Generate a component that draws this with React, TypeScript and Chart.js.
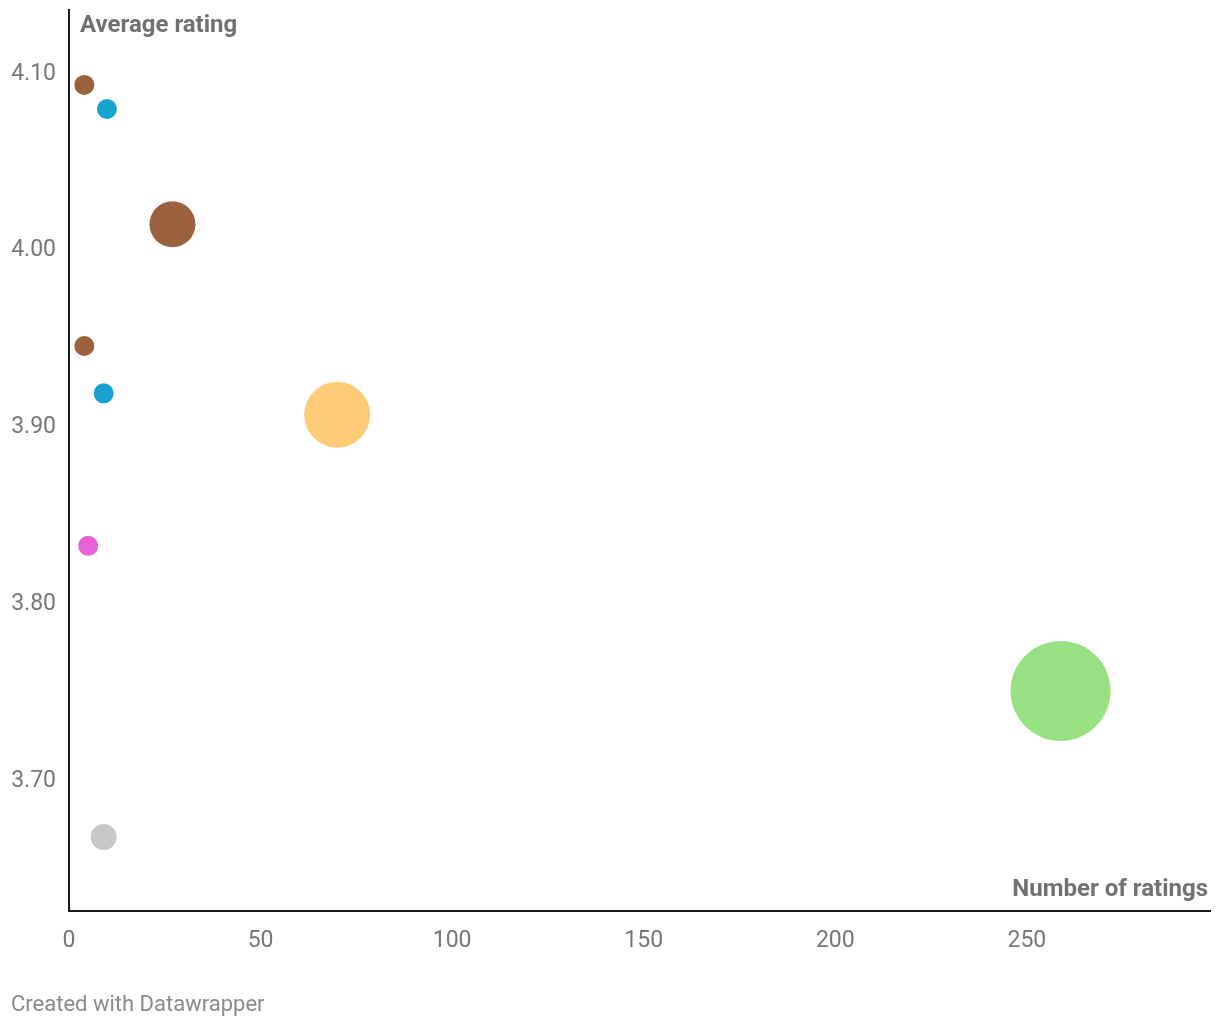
import React, { useEffect, useRef } from "react";
import { Chart, registerables } from "chart.js";

Chart.register(...registerables);

// Data
const ratingCounts = [4.0, 9.9, 27.0, 4.0, 9.05, 70.0, 5.0, 258.8, 9.05];
const averageRatings = [4.0938, 4.0802, 4.015, 3.9461, 3.9193, 3.9072, 3.833, 3.7509, 3.6683];
const bubbleRadii = [10, 10, 23, 10, 10, 33, 10, 50, 13];
const bubbleColors = [
  "#9b613d",
  "#18a2cf",
  "#9b613d",
  "#9b613d",
  "#18a2cf",
  "#fecb79",
  "#ea60d6",
  "#98e183",
  "#c7c7c7",
];
const xTicks = [0, 50, 100, 150, 200, 250];
const yTicks = [3.7, 3.8, 3.9, 4.0, 4.1];

const X_MIN = 0;
const X_MAX = 297.8;
const Y_MIN = 3.6264;
const Y_MAX = 4.1362;

export default function App() {
  const canvasRef = useRef<HTMLCanvasElement | null>(null);

  useEffect(() => {
    if (!canvasRef.current) return;
    const points = ratingCounts.map((x, i) => ({
      x,
      y: averageRatings[i],
      r: bubbleRadii[i],
    }));
    const tickFont = { family: "Roboto", size: 23 };
    const chart = new Chart(canvasRef.current, {
      type: "bubble",
      data: {
        datasets: [
          {
            data: points,
            backgroundColor: bubbleColors,
            borderWidth: 0,
            hoverBorderWidth: 0,
          },
        ],
      },
      options: {
        animation: false,
        responsive: false,
        maintainAspectRatio: false,
        layout: { autoPadding: false, padding: { top: 10, right: 10, left: 0, bottom: 0 } },
        plugins: {
          legend: { display: false },
          tooltip: { enabled: false },
        },
        scales: {
          x: {
            type: "linear",
            min: X_MIN,
            max: X_MAX,
            afterFit: (scale: any) => {
              scale.height = 117;
              scale.paddingLeft = 0;
              scale.paddingRight = 0;
            },
            afterBuildTicks: (scale: any) => {
              scale.ticks = xTicks.map((v) => ({ value: v }));
            },
            grid: { display: true, color: "rgba(0,0,0,0)", drawTicks: false },
            border: { display: true, color: "#1a1a1a", width: 2 },
            ticks: {
              font: tickFont,
              color: "#777777",
              padding: 16,
              maxRotation: 0,
              callback: (v: any) => String(v),
            },
          },
          y: {
            type: "linear",
            min: Y_MIN,
            max: Y_MAX,
            afterFit: (scale: any) => {
              scale.width = 69;
              scale.paddingTop = 0;
              scale.paddingBottom = 0;
            },
            afterBuildTicks: (scale: any) => {
              scale.ticks = yTicks.map((v) => ({ value: v }));
            },
            grid: { display: true, color: "rgba(0,0,0,0)", drawTicks: false },
            border: { display: true, color: "#1a1a1a", width: 2 },
            ticks: {
              font: tickFont,
              color: "#777777",
              padding: 13,
              callback: (v: any) => Number(v).toFixed(2),
            },
          },
        },
      },
    });
    return () => chart.destroy();
  }, []);

  const textBase: React.CSSProperties = {
    position: "absolute",
    fontFamily: "Roboto, sans-serif",
    whiteSpace: "nowrap",
    lineHeight: 1,
  };

  return (
    <div
      style={{
        position: "absolute",
        left: 0,
        top: 0,
        width: 1220,
        height: 1028,
        background: "#ffffff",
        overflow: "hidden",
      }}
    >
      <canvas ref={canvasRef} width={1220} height={1028} style={{ display: "block" }} />
      <div
        style={{
          ...textBase,
          left: 80,
          top: 12,
          fontSize: 24,
          fontWeight: 700,
          color: "#717171",
        }}
      >
        Average rating
      </div>
      <div
        style={{
          ...textBase,
          right: 12,
          top: 876,
          fontSize: 24,
          fontWeight: 700,
          color: "#717171",
        }}
      >
        Number of ratings
      </div>
      <div
        style={{
          ...textBase,
          left: 11,
          top: 993,
          fontSize: 22,
          color: "#8a8a8a",
        }}
      >
        Created with Datawrapper
      </div>
    </div>
  );
}
